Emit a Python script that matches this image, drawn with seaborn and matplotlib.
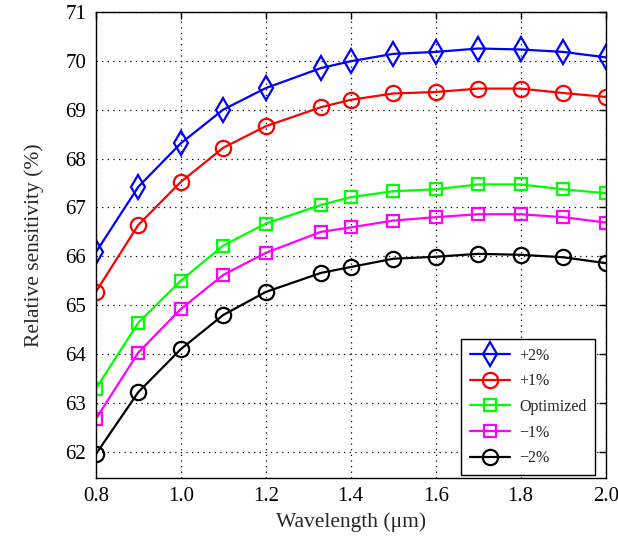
import matplotlib
matplotlib.use("Agg")
import matplotlib.pyplot as plt
import seaborn as sns
import pandas as pd

# Wavelength samples (µm)
wavelength = [0.8, 0.9, 1.0, 1.1, 1.2, 1.33, 1.4, 1.5, 1.6, 1.7, 1.8, 1.9, 2.0]

# Relative sensitivity (%) for each variant
plus2 = [66.08, 67.42, 68.31, 69.00, 69.44, 69.85, 69.99, 70.14, 70.18, 70.25, 70.23, 70.18, 70.07]
plus1 = [65.27, 66.64, 67.52, 68.22, 68.66, 69.05, 69.20, 69.33, 69.36, 69.43, 69.43, 69.34, 69.26]
optimized = [63.29, 64.64, 65.50, 66.22, 66.67, 67.05, 67.21, 67.33, 67.37, 67.47, 67.47, 67.37, 67.29]
minus1 = [62.67, 64.03, 64.92, 65.62, 66.07, 66.50, 66.59, 66.73, 66.80, 66.86, 66.86, 66.80, 66.69]
minus2 = [61.95, 63.22, 64.10, 64.80, 65.27, 65.66, 65.78, 65.95, 65.99, 66.05, 66.03, 65.98, 65.86]

series_labels = ["+2%", "+1%", "Optimized", "\u22121%", "\u22122%"]
series_values = [plus2, plus1, optimized, minus1, minus2]

x_ticks = [0.8, 1.0, 1.2, 1.4, 1.6, 1.8, 2.0]
y_ticks = [62, 63, 64, 65, 66, 67, 68, 69, 70, 71]

sns.set_theme(style="white")
plt.rcParams["font.family"] = ["Liberation Serif", "DejaVu Serif"]

colors = ["#0000ff", "#ff0000", "#00ff00", "#ff00ff", "#000000"]
markers = ["d", "o", "s", "s", "o"]
msizes = [12, 11, 9, 9, 11]

fig = plt.figure(figsize=(6.18, 5.38), dpi=100)
ax = fig.add_axes([0.155, 0.112, 0.825, 0.866])

for lab, vals, c, m, ms in zip(series_labels, series_values, colors, markers, msizes):
    df = pd.DataFrame({"wavelength": wavelength, "sensitivity": vals})
    sns.lineplot(data=df, x="wavelength", y="sensitivity", ax=ax, color=c,
                 marker=m, markersize=ms, markerfacecolor="none",
                 markeredgecolor=c, markeredgewidth=1.6, linewidth=1.6,
                 label=lab)

ax.set_xlim(0.8, 2.0)
ax.set_ylim(61.47, 71.0)
ax.set_xticks(x_ticks)
ax.set_xticklabels([f"{t:.1f}" for t in x_ticks])
ax.set_yticks(y_ticks)
ax.set_yticklabels([str(t) for t in y_ticks])

ax.grid(True, color="black", linestyle=(0, (1, 3.5)), linewidth=0.9)
ax.tick_params(direction="in", top=True, right=True, length=5, width=1,
               labelsize=15, colors="black", pad=7)
for sp in ax.spines.values():
    sp.set_color("black")
    sp.set_linewidth(1.0)

ax.set_xlabel("Wavelength (\u03bcm)", fontsize=15.5, labelpad=4)
ax.set_ylabel("Relative sensitivity (%)", fontsize=15.5, labelpad=15)

leg = ax.legend(loc="lower right", bbox_to_anchor=(0.98, 0.006), fontsize=11.5,
                frameon=True, fancybox=False, edgecolor="black", framealpha=1,
                handlelength=2.5, handletextpad=0.6, labelspacing=0.6,
                borderpad=0.55, borderaxespad=0)
leg.get_frame().set_linewidth(1.0)

fig.savefig("out.png", dpi=100)
